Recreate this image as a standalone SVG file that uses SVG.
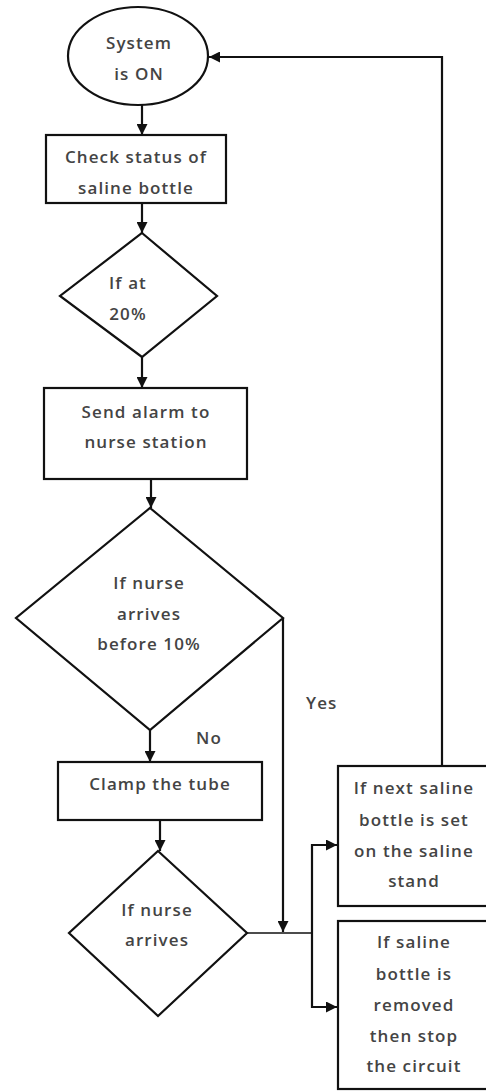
<svg xmlns="http://www.w3.org/2000/svg" width="486" height="1092" viewBox="0 0 486 1092">
<style>
.shape{fill:#fff;stroke:#111;stroke-width:2.2}
.txt{font-family:"Open Sans","Liberation Sans",sans-serif;font-size:17px;font-weight:600;letter-spacing:1.1px;fill:#444;text-anchor:middle}
.lbl{font-family:"Open Sans","Liberation Sans",sans-serif;font-size:17px;font-weight:600;letter-spacing:1.1px;fill:#444}
.c{fill:none;stroke:#111;stroke-width:2.2}
</style>
<defs>
<marker id="ah" viewBox="0 0 10 10" refX="10" refY="5" markerWidth="5" markerHeight="5" markerUnits="strokeWidth" orient="auto">
<path d="M0,0 L10,5 L0,10 Z" fill="#111"/>
</marker>
</defs>
<rect width="486" height="1092" fill="#fff"/>
<g id="connectors">
<line class="c" x1="142" y1="105" x2="142" y2="135" marker-end="url(#ah)"/>
<line class="c" x1="142" y1="203" x2="142" y2="233" marker-end="url(#ah)"/>
<line class="c" x1="142" y1="357" x2="142" y2="388" marker-end="url(#ah)"/>
<line class="c" x1="151" y1="479" x2="151" y2="508" marker-end="url(#ah)"/>
<line class="c" x1="150" y1="730" x2="150" y2="762" marker-end="url(#ah)"/>
<line class="c" x1="160" y1="820" x2="160" y2="851" marker-end="url(#ah)"/>
<polyline class="c" points="283,618 283,932" marker-end="url(#ah)"/>
<line class="c" x1="247" y1="933" x2="312" y2="933" style="stroke-width:1.6"/>
<polyline class="c" points="312,933 312,845 337,845" marker-end="url(#ah)"/>
<polyline class="c" points="312,933 312,1007 337,1007" marker-end="url(#ah)"/>
<polyline class="c" points="442,766 442,57 209,57" marker-end="url(#ah)"/>
</g>
<g id="start">
<ellipse class="shape" cx="138" cy="56" rx="70" ry="49"/>
<text class="txt" x="139" y="49">System</text>
<text class="txt" x="139" y="80">is ON</text>
</g>
<g id="check">
<rect class="shape" x="46" y="135" width="180" height="68"/>
<text class="txt" x="136" y="163">Check status of</text>
<text class="txt" x="136" y="194">saline bottle</text>
</g>
<g id="if20">
<polygon class="shape" points="142,233 217,296 142,357 60,296"/>
<text class="txt" x="128" y="289">If at</text>
<text class="txt" x="128" y="320">20%</text>
</g>
<g id="alarm">
<rect class="shape" x="44" y="388" width="203" height="91"/>
<text class="txt" x="146" y="418">Send alarm to</text>
<text class="txt" x="146" y="448">nurse station</text>
</g>
<g id="if10">
<polygon class="shape" points="150,508 283,618 150,730 16,618"/>
<text class="txt" x="149" y="589">If nurse</text>
<text class="txt" x="149" y="620">arrives</text>
<text class="txt" x="149" y="650">before 10%</text>
</g>
<text class="lbl" x="196" y="744">No</text>
<text class="lbl" x="306" y="709">Yes</text>
<g id="clamp">
<rect class="shape" x="58" y="762" width="204" height="58"/>
<text class="txt" x="160" y="790">Clamp the tube</text>
</g>
<g id="ifarrives">
<polygon class="shape" points="158,851 247,933 158,1016 69,933"/>
<text class="txt" x="157" y="916">If nurse</text>
<text class="txt" x="157" y="946">arrives</text>
</g>
<g id="nextbottle">
<rect class="shape" x="338" y="766" width="160" height="140"/>
<text class="txt" x="414" y="794">If next saline</text>
<text class="txt" x="414" y="826">bottle is set</text>
<text class="txt" x="414" y="857">on the saline</text>
<text class="txt" x="414" y="887">stand</text>
</g>
<g id="removed">
<rect class="shape" x="338" y="921" width="160" height="168"/>
<text class="txt" x="414" y="948">If saline</text>
<text class="txt" x="414" y="980">bottle is</text>
<text class="txt" x="414" y="1011">removed</text>
<text class="txt" x="414" y="1042">then stop</text>
<text class="txt" x="414" y="1072">the circuit</text>
</g>
</svg>
